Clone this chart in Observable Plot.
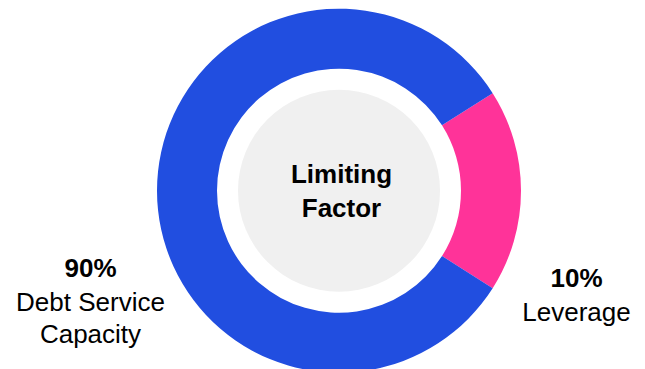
<!DOCTYPE html>
<html>
<head>
<meta charset="utf-8">
<script src="https://cdn.jsdelivr.net/npm/d3@7"></script>
<script src="https://cdn.jsdelivr.net/npm/@observablehq/plot@0.6"></script>
<style>
  html, body { margin: 0; padding: 0; background: #fff; }
  svg { display: block; }
</style>
</head>
<body>
<div id="chart"></div>
<script>
// ---- data ----
const segments = ["Leverage", "Debt Service Capacity"];
const arcShares = [18, 82];            // arc extents as drawn in the picture
const pctLabels = ["10%", "90%"];
const nameLabels = ["Leverage", "Debt Service\nCapacity"];
const segColors = ["#FF3399", "#214EE0"];
const centerLabel = "Limiting\nFactor";

// ---- layout ----
const W = 645, H = 369;
const cx = 339, cy = 190.7, outerR = 182, innerR = 122, hubR = 101;
const labelPos = [{x: 576, y: 278.4, ny: 310.2}, {x: 90, y: 268.4, ny: 316.2}];
const fontFamily = "'Liberation Sans', Arial, sans-serif";

const rows = segments.map((s, i) => ({
  segment: s, share: arcShares[i], pct: pctLabels[i], name: nameLabels[i],
  color: segColors[i], lx: labelPos[i].x, ly: labelPos[i].y, ny: labelPos[i].ny
}));

const total = d3.sum(arcShares);
const start = Math.PI / 2 - (arcShares[0] / total) * Math.PI;
const pie = d3.pie().sort(null).value(d => d.share).startAngle(start).endAngle(start + 2 * Math.PI);

function donut(index, {x, y}) {
  const k = x(1) - x(0);
  const g = d3.create("svg:g").attr("transform", `translate(${x(cx)},${y(cy)})`);
  const arc = d3.arc().innerRadius(innerR * k).outerRadius(outerR * k);
  g.selectAll("path").data(pie(rows)).join("path")
    .attr("d", arc).attr("fill", d => d.data.color);
  g.append("circle").attr("r", hubR * k).attr("fill", "#F0F0F0");
  return g.node();
}

const chart = Plot.plot({
  width: W, height: H,
  margin: 0,
  x: {domain: [0, W], range: [0, W], axis: null},
  y: {domain: [0, H], range: [0, H], axis: null},
  style: {fontFamily, background: "#fff"},
  marks: [
    donut,
    Plot.text([centerLabel], {x: () => 341, y: () => 188.8, text: d => d,
      fontSize: 26, fontWeight: "bold", lineHeight: 1.31, fill: "#000"}),
    Plot.text(rows, {x: "lx", y: "ly", text: "pct", fontSize: 26, fontWeight: "bold", fill: "#000"}),
    Plot.text(rows, {x: "lx", y: "ny", text: "name", fontSize: 26, lineHeight: 1.23, fill: "#000"})
  ]
});
document.getElementById("chart").appendChild(chart);
</script>
</body>
</html>
